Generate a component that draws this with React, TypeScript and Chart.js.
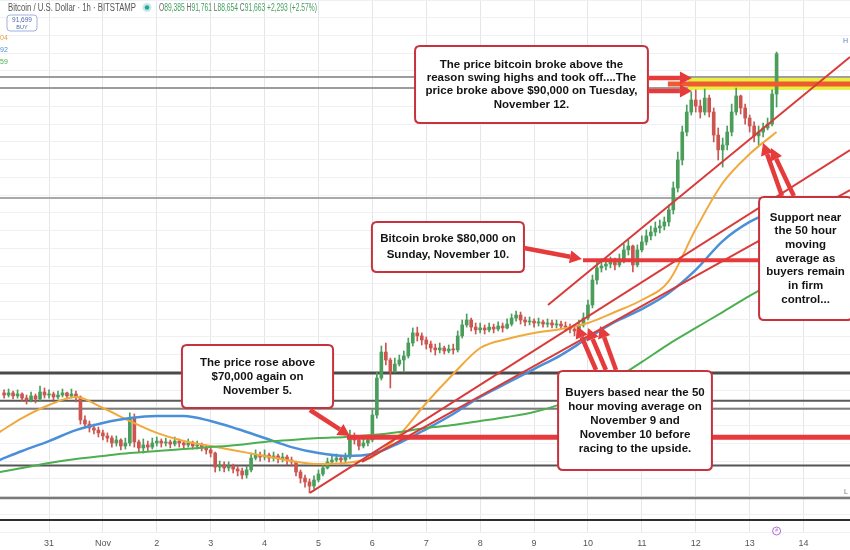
import React, { useEffect, useRef } from "react";
import { Chart, registerables } from "chart.js";

Chart.register(...registerables);

// ---------- time axis (hours from 31 Oct 00:00) ----------
const X_MIN = -21.82;
const X_MAX = 356.69;
const DAY_HOURS = [0, 24, 48, 72, 96, 120, 144, 168, 192, 216, 240, 264, 288, 312, 336];
const DAY_LABELS = ["31", "Nov", "2", "3", "4", "5", "6", "7", "8", "9", "10", "11", "12", "13", "14"];

// ---------- price view ----------
const Y_MIN = 64642;
const Y_MAX = 94700;

// ---------- candles (2-hour bars) ----------
const FIRST_HOUR = -20;
const HOUR_STEP = 2;
const FIRST_OPEN = 72500;
const CLOSES = [
  72380, 72500, 72330, 72440, 72210, 72100, 72330, 72160, 72550, 72380,
  72440, 72270, 72380, 72500, 72330, 72440, 72270, 70970, 70740, 70520,
  70400, 70240, 70070, 69950, 69670, 69840, 69500, 69670, 71080, 69730,
  69390, 69560, 69440, 69670, 69780, 69670, 69730, 69610, 69780, 69670,
  69560, 69670, 69500, 69560, 69390, 69280, 69100, 68310, 68430, 68260,
  68370, 68200, 68090, 67860, 68150, 68820, 68990, 68880, 68990, 68820,
  68940, 68770, 68880, 68710, 68600, 68030, 67690, 67470, 67240, 67580,
  67920, 68260, 68600, 68710, 68820, 68710, 68880, 70070, 69840, 69500,
  69670, 69840, 71250, 73340, 74810, 74360, 73680, 74130, 74360, 74590,
  75320, 75890, 75720, 75490, 75260, 75040, 74930, 75040, 74870, 74980,
  74930, 75720, 76340, 76620, 76220, 76060, 76170, 76060, 76220, 76110,
  76280, 76170, 76390, 76730, 76900, 76620, 76510, 76560, 76450, 76510,
  76390, 76450, 76340, 76390, 76280, 76220, 76110, 76000, 76340, 76730,
  77470, 78880, 79560, 79670, 79780, 79900, 79730, 80010, 80580, 80800,
  79730, 80580, 81030, 81370, 81590, 81820, 81930, 82160, 82840, 84080,
  85660, 87240, 88370, 89050, 88710, 88370, 89160, 88370, 87070, 86230,
  86510, 87240, 88370, 89280, 88600, 88030, 87580, 87020, 87240, 87470,
  87690, 89385, 91663,
];
const HIGHS = [
  72670, 72720, 72610, 72670, 72500, 72380, 72550, 72440, 72890, 72780,
  72670, 72550, 72610, 72720, 72550, 72720, 72610, 72330, 71200, 70910,
  70740, 70570, 70400, 70240, 70070, 70070, 69900, 69950, 71370, 71310,
  69840, 69900, 69780, 69950, 70010, 69900, 69950, 69840, 70010, 69900,
  69780, 69900, 69780, 69780, 69670, 69560, 69440, 69160, 68650, 68600,
  68600, 68480, 68370, 68260, 68370, 69100, 69280, 69160, 69280, 69100,
  69160, 69050, 69100, 68990, 68880, 68650, 68150, 67860, 67640, 67810,
  68150, 68480, 68820, 68940, 69050, 68990, 69100, 70400, 70240, 70010,
  70070, 70120, 71540, 73680, 75150, 75320, 74470, 74470, 74640, 74870,
  75600, 76170, 76220, 75890, 75660, 75430, 75260, 75320, 75150, 75210,
  75260, 76000, 76620, 76960, 76730, 76450, 76450, 76340, 76450, 76390,
  76510, 76450, 76680, 76960, 77130, 77070, 76790, 76790, 76680, 76730,
  76620, 76680, 76620, 76620, 76560, 76510, 76390, 76340, 76620, 77020,
  77750, 79160, 79900, 80070, 80120, 80180, 80120, 80350, 80910, 81140,
  80860, 80860, 81370, 81710, 81930, 82160, 82270, 82440, 83120, 84420,
  86110, 87580, 88770, 89500, 89620, 89050, 89670, 89330, 88600, 87470,
  86900, 87580, 88820, 89730, 89330, 88820, 88200, 87810, 87580, 87750,
  88030, 89620, 91761,
];
const LOWS = [
  72210, 72270, 72160, 72210, 72040, 71870, 71990, 71930, 72040, 72210,
  72210, 72100, 72160, 72270, 72160, 72210, 71990, 70740, 70520, 70290,
  70180, 70010, 69840, 69730, 69440, 69500, 69280, 69330, 69500, 69440,
  69160, 69100, 69220, 69330, 69500, 69440, 69500, 69390, 69500, 69440,
  69330, 69440, 69330, 69330, 69220, 69050, 68880, 68030, 68090, 68030,
  68090, 67980, 67810, 67640, 67690, 68030, 68710, 68650, 68710, 68600,
  68650, 68540, 68600, 68430, 68370, 67810, 67410, 67180, 66850, 67070,
  67470, 67810, 68200, 68480, 68600, 68480, 68600, 68770, 69610, 69280,
  69390, 69500, 69730, 71080, 73230, 74080, 72780, 73680, 74020, 73680,
  74470, 75150, 75430, 75210, 74980, 74810, 74640, 74760, 74700, 74760,
  74700, 74810, 75600, 76220, 76000, 75830, 75890, 75830, 75940, 75890,
  76000, 75940, 76110, 76280, 76560, 76390, 76280, 76340, 76220, 76280,
  76220, 76220, 76170, 76170, 76110, 76000, 75890, 75720, 75830, 76220,
  76620, 77300, 78650, 79330, 79450, 79560, 79450, 79620, 79840, 80290,
  79330, 79620, 80460, 80860, 81140, 81370, 81540, 81710, 81930, 82610,
  83850, 85380, 87020, 88200, 88370, 88030, 88200, 88090, 86680, 85660,
  85260, 86230, 87020, 88200, 88260, 87690, 87240, 86680, 86510, 86960,
  87360, 87580, 88654,
];

// ---------- moving averages ----------
const MA_HOURS = [-22, -12, 0, 12, 24, 36, 48, 60, 72, 84, 96, 108, 120, 132, 144, 156, 168, 180, 192, 204, 216, 228, 240, 252, 264, 276, 288, 300, 312, 324];
const MA50 = [70290, 71080, 71820, 72270, 71650, 70910, 70240, 69780, 69500, 69220, 68940, 68650, 68480, 68540, 68880, 70120, 71930, 73570, 75040, 75550, 75890, 76110, 76450, 77070, 77750, 78820, 81760, 84360, 86000, 87240];
const MA100 = [68710, 69220, 69780, 70400, 70800, 71080, 71200, 71200, 70910, 70460, 69950, 69440, 69100, 68940, 69050, 69670, 70460, 71310, 72270, 73060, 73850, 74640, 75600, 76510, 77240, 78150, 79450, 81080, 82160, 82840];
const MA200 = [68030, 68260, 68540, 68770, 68940, 69100, 69220, 69330, 69440, 69560, 69730, 69840, 69950, 70010, 70120, 70290, 70520, 70690, 70910, 71140, 71420, 71870, 72500, 73290, 74250, 75260, 76170, 77070, 77980, 78820];

// ---------- drawn levels ----------
const GREY_LEVELS = [90350, 89730, 83510, 73630, 72060, 71610, 68400, 66560, 65320];
const GREY_COLORS = ["#9c9c9c", "#9c9c9c", "#a9a9a9", "#4a4a4a", "#5a5a5a", "#7d7d7d", "#555555", "#7a7a7a", "#2e2e2e"];
const GREY_WIDTHS = [2, 2, 2, 3, 2, 2, 2, 2.5, 2];
const BAND_FROM_HOUR = 284.5;
const BAND_TOP = 90300;
const BAND_BOTTOM = 89620;
const RED_LEVELS = [89950, 80000, 70000];
const RED_FROM_HOURS = [275.6, 237.8, 132.7];
const RED_WIDTHS = [5, 4, 5];

// ---------- trend lines ----------
const TREND_H1 = [222.2, 116.2, 139.4];
const TREND_P1 = [77470, 66850, 68600];
const TREND_H2 = [356.7, 356.7, 356.7];
const TREND_P2 = [91480, 86225, 83965];

// ---------- arrows (tail -> head) ----------
const ARROW_H1 = [116.2, 211.5, 266.7, 266.7, 243.6, 248.0, 252.5, 326.4, 331.7];
const ARROW_P1 = [71535, 80688, 90293, 89558, 73795, 73795, 73795, 83626, 83626];
const ARROW_H2 = [134.0, 237.3, 286.3, 286.3, 235.1, 240.0, 245.4, 318.0, 321.5];
const ARROW_P2 = [70066, 80066, 90293, 89558, 76281, 76168, 76281, 86621, 86338];

// ---------- callout boxes ----------
const BOX_TEXTS = [
  ["The price bitcoin broke above the", "reason swing highs and took off....The", "price broke above $90,000 on Tuesday,", "November 12."],
  ["Bitcoin broke $80,000 on", "Sunday, November 10."],
  ["The price rose above", "$70,000 again on", "November 5."],
  ["Buyers based near the 50", "hour moving average on", "November 9 and", "November 10 before", "racing to the upside."],
  ["Support near", "the 50 hour", "moving", "average as", "buyers remain", "in firm", "control..."],
];
const BOX_H1 = [163.0, 143.8, 59.2, 226.7, 316.2];
const BOX_H2 = [266.7, 211.5, 126.5, 295.2, 357.6];
const BOX_P1 = [92100, 82160, 75210, 73740, 83570];
const BOX_P2 = [87750, 79330, 71650, 68150, 76620];
const BOX_GAP = [13.3, 16, 14, 14, 13.7];

const UP = "#4a9d5b";
const DOWN = "#cc5550";

function roundRect(ctx: any, x: number, y: number, w: number, h: number, r: number) {
  ctx.beginPath();
  ctx.moveTo(x + r, y);
  ctx.lineTo(x + w - r, y);
  ctx.quadraticCurveTo(x + w, y, x + w, y + r);
  ctx.lineTo(x + w, y + h - r);
  ctx.quadraticCurveTo(x + w, y + h, x + w - r, y + h);
  ctx.lineTo(x + r, y + h);
  ctx.quadraticCurveTo(x, y + h, x, y + h - r);
  ctx.lineTo(x, y + r);
  ctx.quadraticCurveTo(x, y, x + r, y);
  ctx.closePath();
}

function drawArrow(ctx: any, x1: number, y1: number, x2: number, y2: number) {
  const ang = Math.atan2(y2 - y1, x2 - x1);
  const hl = 12;
  const hw = 6.5;
  const bx = x2 - hl * Math.cos(ang);
  const by = y2 - hl * Math.sin(ang);
  ctx.lineWidth = 4.5;
  ctx.beginPath();
  ctx.moveTo(x1, y1);
  ctx.lineTo(bx, by);
  ctx.stroke();
  ctx.beginPath();
  ctx.moveTo(x2, y2);
  ctx.lineTo(bx + hw * Math.sin(ang), by - hw * Math.cos(ang));
  ctx.lineTo(bx - hw * Math.sin(ang), by + hw * Math.cos(ang));
  ctx.closePath();
  ctx.fill();
}

function fitSegments(ctx: any, segs: [string, string][], x: number, y: number, width: number, font: string) {
  ctx.font = font;
  const total = ctx.measureText(segs.map((s) => s[0]).join("")).width;
  const s = width / total;
  let cx = x;
  for (const [t, c] of segs) {
    ctx.save();
    ctx.translate(cx, y);
    ctx.scale(s, 1);
    ctx.fillStyle = c;
    ctx.fillText(t, 0, 0);
    ctx.restore();
    cx += ctx.measureText(t).width * s;
  }
}

const overlayPlugin = {
  id: "overlay",
  beforeDatasetsDraw(chart: any) {
    const { ctx, chartArea } = chart;
    const xs = chart.scales.x;
    const ys = chart.scales.y;
    ctx.save();
    for (let i = 0; i < GREY_LEVELS.length; i++) {
      const y = ys.getPixelForValue(GREY_LEVELS[i]);
      ctx.strokeStyle = GREY_COLORS[i];
      ctx.lineWidth = GREY_WIDTHS[i];
      ctx.beginPath();
      ctx.moveTo(chartArea.left, y);
      ctx.lineTo(chartArea.right, y);
      ctx.stroke();
    }
    const bx = xs.getPixelForValue(BAND_FROM_HOUR);
    const bt = ys.getPixelForValue(BAND_TOP);
    const bb = ys.getPixelForValue(BAND_BOTTOM);
    ctx.fillStyle = "#e8ef3e";
    ctx.fillRect(bx, bt, chartArea.right - bx, bb - bt);
    ctx.restore();
  },
  afterDatasetsDraw(chart: any) {
    const { ctx, chartArea } = chart;
    const xs = chart.scales.x;
    const ys = chart.scales.y;
    const X = (h: number) => xs.getPixelForValue(h);
    const Y = (p: number) => ys.getPixelForValue(p);
    ctx.save();

    // red horizontal levels
    for (let i = 0; i < RED_LEVELS.length; i++) {
      ctx.strokeStyle = i === 0 ? "#ef5a30" : "#e8393c";
      ctx.lineWidth = RED_WIDTHS[i];
      ctx.beginPath();
      ctx.moveTo(X(RED_FROM_HOURS[i]), Y(RED_LEVELS[i]));
      ctx.lineTo(chartArea.right, Y(RED_LEVELS[i]));
      ctx.stroke();
    }

    // trend lines
    ctx.strokeStyle = "#d93a3a";
    ctx.lineWidth = 2;
    for (let i = 0; i < TREND_H1.length; i++) {
      ctx.beginPath();
      ctx.moveTo(X(TREND_H1[i]), Y(TREND_P1[i]));
      ctx.lineTo(X(TREND_H2[i]), Y(TREND_P2[i]));
      ctx.stroke();
    }

    // boxes
    for (let i = 0; i < BOX_TEXTS.length; i++) {
      const x1 = X(BOX_H1[i]);
      const x2 = X(BOX_H2[i]);
      const y1 = Y(BOX_P1[i]);
      const y2 = Y(BOX_P2[i]);
      roundRect(ctx, x1, y1, x2 - x1, y2 - y1, 5);
      ctx.fillStyle = "#ffffff";
      ctx.fill();
      ctx.strokeStyle = "#c8323c";
      ctx.lineWidth = 2;
      ctx.stroke();
      const lines = BOX_TEXTS[i];
      const cx = (x1 + x2) / 2;
      const cy = (y1 + y2) / 2;
      ctx.font = "bold 11.5px 'Liberation Sans', Arial, sans-serif";
      ctx.fillStyle = "#141414";
      ctx.textAlign = "center";
      ctx.textBaseline = "middle";
      lines.forEach((t, k) => {
        ctx.fillText(t, cx, cy + (k - (lines.length - 1) / 2) * BOX_GAP[i]);
      });
    }

    // arrows
    ctx.strokeStyle = "#e63b3b";
    ctx.fillStyle = "#e63b3b";
    for (let i = 0; i < ARROW_H1.length; i++) {
      drawArrow(ctx, X(ARROW_H1[i]), Y(ARROW_P1[i]), X(ARROW_H2[i]), Y(ARROW_P2[i]));
    }

    // header
    ctx.textAlign = "left";
    ctx.textBaseline = "middle";
    fitSegments(ctx, [["Bitcoin / U.S. Dollar · 1h · BITSTAMP", "#555555"]], 8, 8, 128, "10px 'Liberation Sans', Arial");
    ctx.fillStyle = "rgba(38,166,154,0.25)";
    ctx.beginPath();
    ctx.arc(147, 7.5, 4.5, 0, Math.PI * 2);
    ctx.fill();
    ctx.fillStyle = "#26a69a";
    ctx.beginPath();
    ctx.arc(147, 7.5, 2.3, 0, Math.PI * 2);
    ctx.fill();
    const G = "#45a05e";
    const L = "#666666";
    fitSegments(
      ctx,
      [["O", L], ["89,385", G], [" H", L], ["91,761", G], [" L", L], ["88,654", G], [" C", L], ["91,663", G], [" +2,293 (+2.57%)", G]],
      159, 8, 158, "10px 'Liberation Sans', Arial"
    );
    // buy box
    roundRect(ctx, 7, 15, 30, 16, 3);
    ctx.fillStyle = "#ffffff";
    ctx.fill();
    ctx.strokeStyle = "#9fb2dc";
    ctx.lineWidth = 1;
    ctx.stroke();
    ctx.textAlign = "center";
    ctx.fillStyle = "#4a68b0";
    ctx.font = "6.5px 'Liberation Sans', Arial";
    ctx.fillText("91,699", 22, 20);
    ctx.font = "5.5px 'Liberation Sans', Arial";
    ctx.fillText("BUY", 22, 27);
    // partial MA legend values at left edge
    ctx.textAlign = "left";
    ctx.font = "7px 'Liberation Sans', Arial";
    ctx.fillStyle = "#e8a23a";
    ctx.fillText("04", 0, 38);
    ctx.fillStyle = "#4a90d9";
    ctx.fillText("92", 0, 50);
    ctx.fillStyle = "#4caf50";
    ctx.fillText("59", 0, 62);
    // right edge labels
    ctx.fillStyle = "#5f7fb8";
    ctx.font = "7px 'Liberation Sans', Arial";
    ctx.fillText("H", 843, 41);
    ctx.fillStyle = "#777";
    ctx.fillText("L", 844, 492);
    // event marker
    const mx = X(CLOSES.length * HOUR_STEP + FIRST_HOUR - 2);
    ctx.strokeStyle = "#b36ad6";
    ctx.lineWidth = 1;
    ctx.beginPath();
    ctx.arc(mx, 531, 4, 0, Math.PI * 2);
    ctx.stroke();
    ctx.fillStyle = "#b36ad6";
    ctx.font = "5px 'Liberation Sans', Arial";
    ctx.textAlign = "center";
    ctx.fillText("#", mx, 531);
    ctx.restore();
  },
};

export default function App() {
  const ref = useRef<HTMLCanvasElement | null>(null);
  useEffect(() => {
    if (!ref.current) return;
    const hours = CLOSES.map((_, i) => FIRST_HOUR + i * HOUR_STEP);
    const opens = CLOSES.map((_, i) => (i === 0 ? FIRST_OPEN : CLOSES[i - 1]));
    const colors = CLOSES.map((c, i) => (c >= opens[i] ? UP : DOWN));
    const maLine = (vals: number[], color: string, width: number) => ({
      type: "line" as const,
      data: vals.map((v, i) => ({ x: MA_HOURS[i], y: v })),
      borderColor: color,
      borderWidth: width,
      pointRadius: 0,
      cubicInterpolationMode: "monotone" as const,
      fill: false,
      order: 1,
    });
    const chart = new Chart(ref.current, {
      type: "bar",
      data: {
        datasets: [
          maLine(MA200, "#4caf50", 2),
          maLine(MA100, "#4a90d9", 2.5),
          maLine(MA50, "#f2a93b", 2),
          {
            type: "bar",
            data: hours.map((h, i) => ({ x: h, y: [LOWS[i], HIGHS[i]] })),
            backgroundColor: colors,
            barThickness: 1,
            grouped: false,
            order: 3,
          } as any,
          {
            type: "bar",
            data: hours.map((h, i) => ({ x: h, y: [opens[i], CLOSES[i]] })),
            backgroundColor: colors,
            barThickness: 3,
            minBarLength: 1,
            grouped: false,
            order: 2,
          } as any,
        ],
      },
      options: {
        responsive: false,
        animation: false,
        devicePixelRatio: 1,
        events: [],
        layout: { padding: 0 },
        plugins: { legend: { display: false }, tooltip: { enabled: false } },
        scales: {
          x: {
            type: "linear",
            min: X_MIN,
            max: X_MAX,
            offset: false,
            grid: { offset: false, color: "#e4e6eb", drawTicks: false },
            border: { display: false },
            ticks: {
              autoSkip: false,
              maxRotation: 0,
              padding: 6,
              color: "#555",
              font: { size: 9, family: "'Liberation Sans', Arial" },
              callback: (v: any) => {
                const k = DAY_HOURS.indexOf(Number(v));
                return k >= 0 ? DAY_LABELS[k] : "";
              },
            },
            afterBuildTicks: (s: any) => {
              s.ticks = DAY_HOURS.map((v) => ({ value: v }));
            },
            afterFit: (s: any) => {
              s.height = 18;
            },
          },
          y: {
            type: "linear",
            min: Y_MIN,
            max: Y_MAX,
            grid: { color: "#eef0f3", drawTicks: false },
            border: { display: false },
            ticks: { display: false, stepSize: 1000 },
            afterFit: (s: any) => {
              s.width = 0;
            },
          },
        },
      } as any,
      plugins: [overlayPlugin],
    });
    return () => chart.destroy();
  }, []);
  return (
    <div style={{ position: "fixed", left: 0, top: 0, width: 850, height: 550, background: "#fff" }}>
      <canvas ref={ref} width={850} height={550} style={{ display: "block" }} />
    </div>
  );
}
